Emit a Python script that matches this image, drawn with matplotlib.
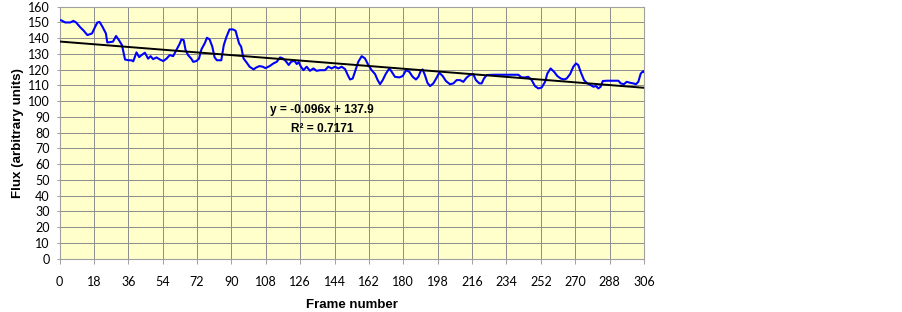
import matplotlib
matplotlib.use("Agg")
import matplotlib.pyplot as plt
import numpy as np

frames = [0, 1, 3, 5.6, 7.3, 8.7, 10.8, 12.5, 14.6, 17, 18, 19.8, 21, 22.6, 24.3, 25, 26.4, 28,
          29.6, 31, 32.7, 34.3, 36, 37.7, 38.6, 40.3, 41.7, 43, 44.7, 46.4, 47.7, 49, 50.8, 52.5,
          54.3, 56, 57.7, 59.5, 61.2, 63, 63.8, 65, 66, 67.3, 69, 70, 71.7, 73, 74.3, 76, 77.2,
          78.6, 80, 81.2, 82.4, 84.7, 86, 87.3, 89, 90.8, 92.2, 93, 94, 95.1, 96.3, 97.7, 99.5,
          101.6, 103, 104.7, 106.4, 107.8, 110, 112, 113.7, 115.5, 116.9, 118.3, 120, 121.2, 123,
          124.2, 125.2, 126.4, 127.7, 129.4, 131.1, 132.9, 134.6, 136.4, 139, 140.7, 142.5, 144.2,
          146, 147.7, 149.5, 150.9, 152.1, 153.5, 154.7, 156.4, 158.2, 159.9, 161.7, 163.4, 165.2,
          166.4, 167.8, 169.2, 170.9, 172.7, 173.9, 175.6, 177.9, 179.7, 181.4, 183.1, 184.9,
          186.6, 187.9, 189.1, 190.1, 191.3, 192.6, 194, 195.7, 197.5, 198.8, 200.6, 202.3, 204.4,
          206.2, 207.9, 209.7, 211.4, 213.2, 214.9, 216.6, 218, 219.8, 221, 222.2, 223.6, 227.1,
          230.6, 235.8, 240.2, 241.9, 243.7, 245.4, 247.2, 248.9, 250.7, 252.4, 254.2, 255.4,
          257.1, 258.9, 260.6, 262.4, 264.1, 265.5, 267.3, 269, 270.4, 271.6, 272.8, 274.6, 276.3,
          278.1, 279.5, 280.9, 282.1, 283.3, 284.4, 286.5, 290, 292.6, 293.8, 295.5, 296.9, 298.7,
          300.4, 301.8, 303, 304.3, 305.6, 306]

flux = [151.5, 151.3, 150, 150, 151, 150, 147, 145, 142, 143, 145.6, 150, 150.3, 147, 143, 137.3,
        137.5, 137.8, 141.4, 139, 135.6, 126.5, 126, 126, 125.3, 131, 128, 129.3, 130.8, 127,
        128.6, 126.7, 127.8, 126.5, 125.5, 127, 129.3, 128.6, 132.5, 136.7, 139.2, 138.8, 132.5,
        129.3, 127, 125, 125.5, 127, 132.9, 136.7, 140.3, 139.2, 134.6, 127.8, 126, 126, 135.6,
        140.5, 145.6, 145.6, 144.7, 141, 136.7, 134.6, 127.2, 125, 121.9, 120.2, 121.4, 122.3,
        121.9, 121, 122.3, 124, 125, 127.8, 127.2, 125.7, 123, 125, 125.7, 123.6, 124.8, 121.9,
        119.7, 121.9, 119.3, 120.8, 119.3, 119.7, 119.7, 121.9, 120.8, 121.9, 120.8, 121.9,
        120.4, 116.6, 113.8, 114.4, 118.7, 125, 128.6, 127.2, 122.9, 119.7, 117.2, 113.8, 110.8,
        113.4, 117.6, 120.8, 118.7, 115.5, 115.1, 116, 119.7, 118.7, 115.5, 113.8, 115.5, 119.3,
        120.2, 116.6, 111.7, 109.6, 111.3, 115.1, 118.1, 116, 112.8, 110.8, 111.3, 113.4, 113.4,
        112.3, 115.1, 116.6, 117.2, 113.4, 111.3, 111.3, 114.4, 116.6, 116.8, 116.8, 116.8,
        116.8, 115.1, 115.1, 115.5, 113.4, 109.6, 108.1, 108.7, 112.3, 117.6, 120.8, 118.7, 116,
        114.4, 113.8, 114.4, 117.2, 121.9, 124, 122.9, 118.7, 113.4, 111.3, 110.2, 109.2, 109.6,
        108.1, 109.2, 112.8, 113, 113, 113, 111.3, 110.8, 112.3, 111.7, 111.3, 110.8, 112.3,
        117.6, 119.1, 118.7]

trend_slope = -0.096
trend_intercept = 137.9
trend_x = [0, 306]
x_ticks = list(range(0, 307, 18))
y_ticks = list(range(0, 161, 10))
equation_text = "y = -0.096x + 137.9"
r2_text = "R² = 0.7171"

fig = plt.figure(figsize=(9.03, 3.12), dpi=100)
ax = fig.add_axes([0.0659, 0.1708, 0.6473, 0.8077])
ax.set_facecolor("#FFFFCC")

ax.plot(frames, flux, color="#0000FF", lw=1.5, solid_joinstyle="round", zorder=3)
tx = np.array(trend_x, dtype=float)
ax.plot(tx, trend_slope * tx + trend_intercept, color="black", lw=1.4, zorder=4)

ax.set_xlim(0, 306)
ax.set_ylim(0, 160)
ax.set_xticks(x_ticks)
ax.set_yticks(y_ticks)
ax.grid(True, color="#8C8C8C", lw=0.7, zorder=1)
ax.set_axisbelow(True)
for s in ax.spines.values():
    s.set_color("#A0A0A0")
    s.set_linewidth(0.8)

ax.tick_params(axis="x", length=3.5, width=0.7, color="#A0A0A0", pad=9)
ax.tick_params(axis="y", length=2, width=0.7, color="#A0A0A0", pad=5)
for lab in ax.get_xticklabels() + ax.get_yticklabels():
    lab.set_fontfamily(["Lato", "DejaVu Sans"])
    lab.set_fontsize(9)

ax.set_xlabel("Frame number", fontfamily="Liberation Sans", fontweight="bold",
              fontsize=9.5, labelpad=8)
ax.set_ylabel("Flux (arbitrary units)", fontfamily="Liberation Sans", fontweight="bold",
              fontsize=9.6, labelpad=3)

ax.text(137.5, 94.5, equation_text, ha="center", va="center",
        fontfamily="Liberation Sans", fontweight="bold", fontsize=8.6, zorder=5)
ax.text(137.5, 82.5, r2_text, ha="center", va="center",
        fontfamily="Liberation Sans", fontweight="bold", fontsize=8.6, zorder=5)

fig.savefig("out.png", dpi=100)
